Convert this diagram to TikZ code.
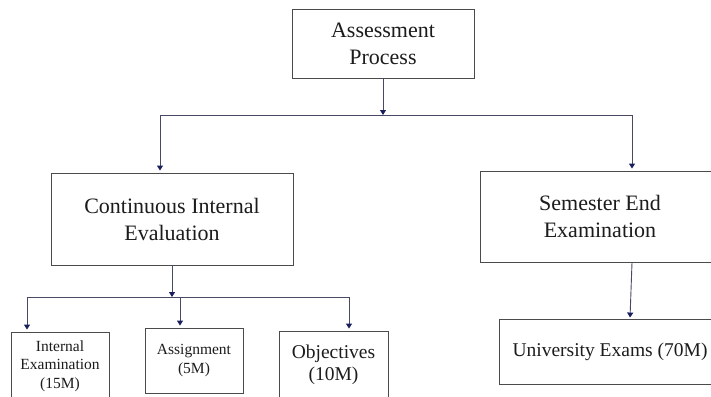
\documentclass[tikz,border=0pt]{standalone}
\usepackage{fontspec}
\setmainfont{Liberation Serif}
\usetikzlibrary{arrows.meta}
\definecolor{boxline}{RGB}{75,75,75}
\definecolor{wire}{RGB}{72,74,100}
\definecolor{tipc}{RGB}{25,30,95}
\definecolor{ink}{RGB}{28,28,28}
\begin{document}
\begin{tikzpicture}[x=1pt,y=-1pt,
  box/.style={draw=boxline, line width=0.9pt, fill=white, align=center,
    text=ink, inner sep=0pt},
  big/.style={font=\fontsize{22}{27}\selectfont},
  mid/.style={font=\fontsize{19.5}{22}\selectfont},
  small/.style={font=\fontsize{15.5}{18.5}\selectfont},
  wire/.style={draw=wire, line width=0.9pt},
  arr/.style={wire, shorten >=2pt,
    -{Triangle[length=5pt,width=6pt,color=tipc]}}]
\useasboundingbox (0,0) rectangle (711,396);
\clip (0,0) rectangle (711,396);

% boxes
\node[box, big, minimum width=182pt, minimum height=69pt] (top) at (383,43.5)
  {Assessment\\Process};
\node[box, big, minimum width=242pt, minimum height=92pt] (cie) at (172,219)
  {Continuous Internal\\Evaluation};
\node[box, big, minimum width=240pt, minimum height=91pt] (see) at (600,216.5)
  {Semester End\\Examination};
\node[box, mid, minimum width=222pt, minimum height=65pt] (uni) at (610,351.5)
  {University Exams (70M)};
\node[box, small, minimum width=98pt, minimum height=68pt] (ie) at (60,366)
  {Internal\\Examination\\(15M)};
\node[box, small, minimum width=98pt, minimum height=65pt] (asg) at (194,360.5)
  {Assignment\\(5M)};
\node[box, mid, minimum width=109pt, minimum height=67pt] (obj) at (333.5,364.5)
  {Objectives\\(10M)};

% bus lines
\coordinate (b1L) at (160,115);
\coordinate (b1R) at (632,115);
\coordinate (b2L) at (27,297);
\coordinate (b2M) at (180,297);
\coordinate (b2R) at (349,297);

% connectors
\draw[arr, shorten >=0pt] (top.south) -- (top.south |- b1L);
\draw[wire] (b1L) -- (b1R);
\draw[arr] (b1L) -- (b1L |- cie.north);
\draw[arr] (b1R) -- (b1R |- see.north);

\draw[arr, shorten >=0pt] (cie.south) -- (cie.south |- b2L);
\draw[wire] (b2L) -- (b2R);
\draw[arr] (b2L) -- (b2L |- ie.north);
\draw[arr] (b2M) -- (b2M |- asg.north);
\draw[arr] (b2R) -- (b2R |- obj.north);

\draw[arr, shorten >=1pt] (see.south -| b1R) -- ([xshift=20pt]uni.north);
\end{tikzpicture}
\end{document}
